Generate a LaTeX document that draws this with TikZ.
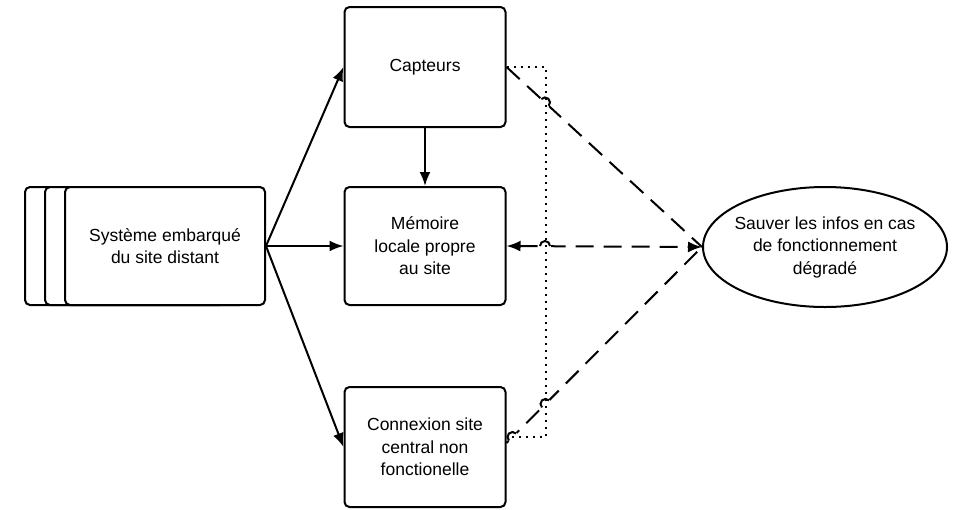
\documentclass[tikz,border=0pt]{standalone}
\usepackage{fontspec}
\setmainfont{Liberation Sans}
\usetikzlibrary{arrows.meta,shapes.geometric,intersections}
\newcommand\linehop[2]{%
  \draw[white,line width=4.5pt] ([shift={(#2:-5.5)}]#1) -- ([shift={(#2:5.5)}]#1);
}
\newcommand\linearc[2]{%
  \draw[line width=2pt] ([shift={(#2:-5)}]#1) arc[start angle=#2+180,end angle=#2+360,radius=5];
}
\begin{document}
\begin{tikzpicture}[x=1pt,y=-1pt,
  txt/.style={align=center,font=\fontsize{17.5}{22.5}\selectfont},
  boxn/.style={txt,draw,line width=2pt,rounded corners=5pt,fill=white,
    minimum width=161pt,minimum height=120pt,inner sep=0pt},
  stackn/.style={draw,line width=2pt,rounded corners=5pt,fill=white,
    minimum width=200pt,minimum height=118pt,inner sep=0pt},
  ell/.style={txt,draw,line width=2pt,ellipse,minimum width=244pt,minimum height=120pt,
    inner xsep=-8pt,inner ysep=0pt},
  arr/.style={line width=2pt,-{Latex[length=14pt,width=11pt]}},
  dsh/.style={line width=2pt,dash pattern=on 18pt off 10pt},
  dotl/.style={line width=2pt,dash pattern=on 2pt off 5pt}]
\useasboundingbox (0,0) rectangle (957,509);
% stacked system box
\node[stackn] (back2) at (125,246) {};
\node[stackn] (back1) at (145,246) {};
\node[stackn,txt] (sys) at (165,246) {Système embarqué\\du site distant};
% boxes
\node[boxn] (cap) at (425,67) {Capteurs};
\node[boxn,minimum height=118pt] (mem) at (425,246) {Mémoire\\locale propre\\au site};
\node[boxn] (con) at (425,447) {Connexion site\\central non\\fonctionelle};
\node[ell] (sav) at (825,247) {Sauver les infos en cas\\de fonctionnement\\dégradé};
% solid arrows
\draw[arr] (sys.east) -- (cap.west);
\draw[arr] (sys.east) -- (mem.west);
\draw[arr] (sys.east) -- (con.west);
\draw[arr] (cap.south) -- (mem.north);
% dashed connectors
\coordinate (conA) at ([yshift=4pt]con.east);
\coordinate (conB) at ([yshift=10pt]con.east);
\draw[dsh,name path=d1] (cap.east) -- (sav.west);
\draw[dsh,{Latex[length=14pt,width=11pt]}-{Latex[length=14pt,width=11pt]}] (mem.east) -- (sav.west);
\draw[dsh,name path=d3] (conA) -- (sav.west);
% dotted path
\path[name path=dp] (cap.east) -- ++(39,0) |- (conB);
\path[name path=vl] (545,80) -- (545,420);
\path[name intersections={of=d1 and vl,by={h1}}];
\path[name intersections={of=d3 and dp,by={h3,h4}}];
\coordinate (h2) at (545,246);
\linehop{h1}{42.4}
\linehop{h2}{0}
\linehop{h3}{-44.9}
\linehop{h4}{-44.9}
\draw[dotl] (cap.east) -- ++(39,0) |- (conB);
\linearc{h1}{42.4}
\linearc{h2}{0}
\linearc{h3}{-44.9}
\linearc{h4}{-44.9}
\end{tikzpicture}
\end{document}
